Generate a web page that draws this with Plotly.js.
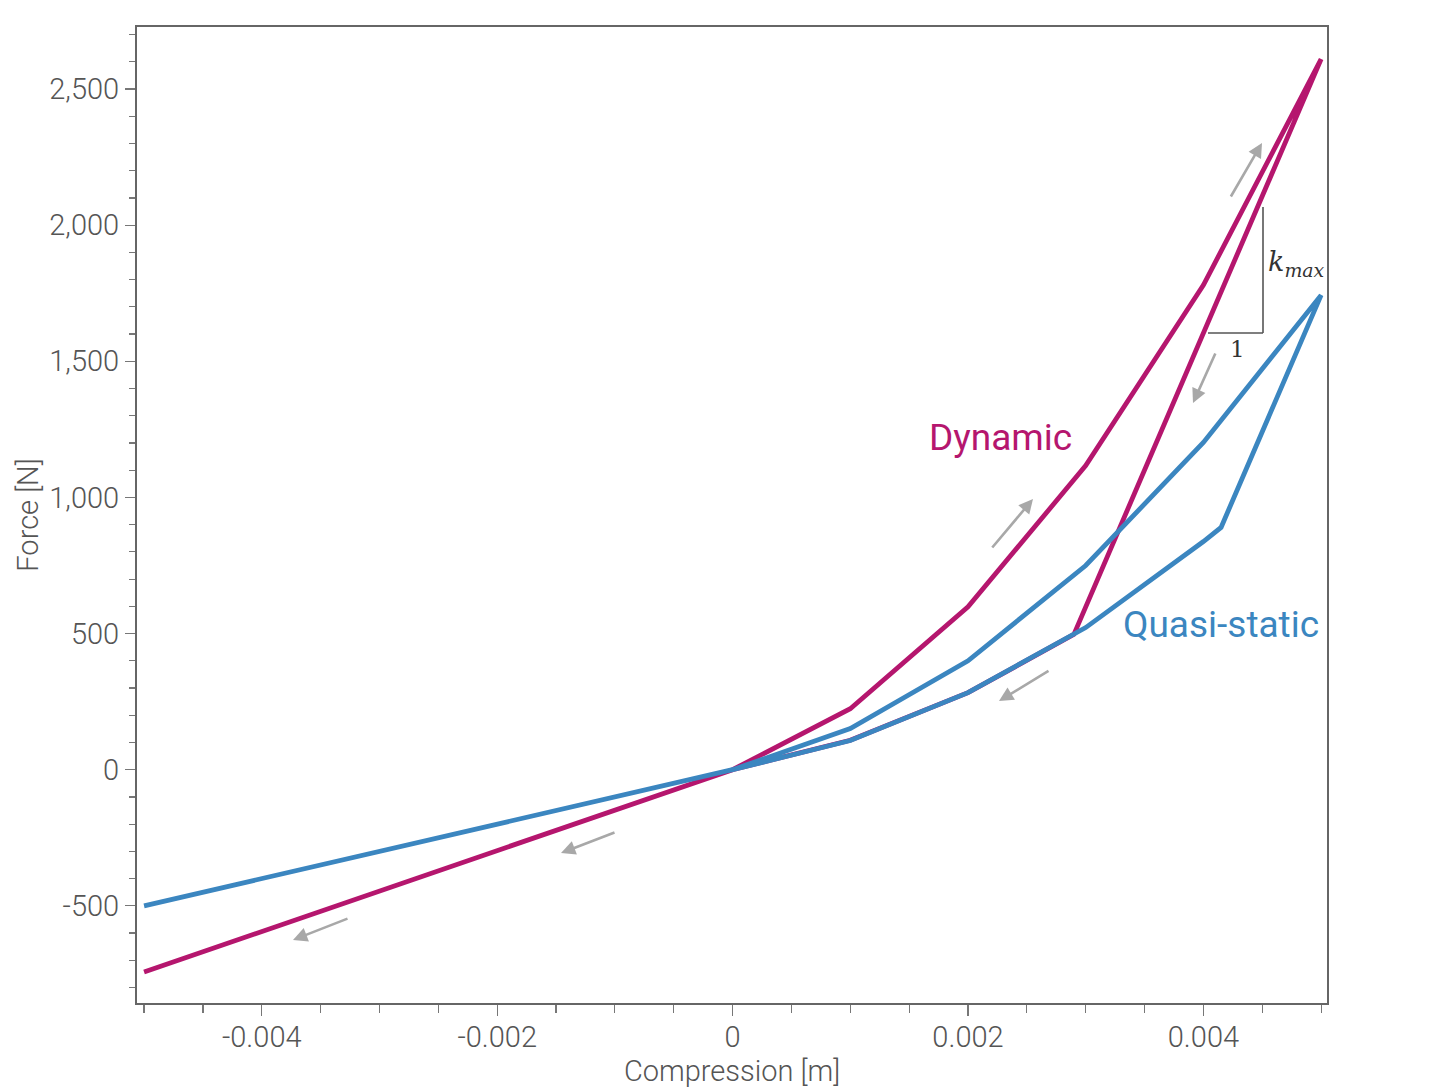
<!DOCTYPE html>
<html>
<head>
<meta charset="utf-8">
<script src="https://cdn.plot.ly/plotly-3.0.1.min.js"></script>
<style>
  html, body { margin: 0; padding: 0; background: #fff; }
  #chart { width: 1456px; height: 1088px; }
</style>
</head>
<body>
<div id="chart"></div>
<script>
// ---- Data ----
const dynamicX = [-0.005, 0, 0.001, 0.002, 0.003, 0.004, 0.005, 0.004, 0.0029, 0.002, 0.001, 0, -0.005];
const dynamicY = [-743, 0, 224, 598, 1117, 1780, 2610, 1607, 497, 283, 108, 0, -743];

const quasiX = [-0.005, 0, 0.001, 0.002, 0.003, 0.004, 0.005, 0.00415, 0.004, 0.003, 0.002, 0.001, 0, -0.005];
const quasiY = [-500, 0, 151, 400, 750, 1202, 1743, 890, 838, 522, 283, 107, 0, -500];

const xTickVals = [-0.004, -0.002, 0, 0.002, 0.004];
const xTickText = ['-0.004', '-0.002', '0', '0.002', '0.004'];
const yTickVals = [-500, 0, 500, 1000, 1500, 2000, 2500];
const yTickText = ['-500', '0', '500', '1,000', '1,500', '2,000', '2,500'];

// ---- Layout geometry ----
const W = 1456, H = 1088;
const L = 137, R = 1327, T = 27, B = 1003;
const px = x => (x - L) / (R - L);
const py = y => (B - y) / (B - T);

const magenta = '#b5166e';
const blue = '#3b86c0';
const arrowGray = '#a8a8a8';
const fontFam = 'Roboto, "Noto Sans", sans-serif';

const traces = [
  { x: dynamicX, y: dynamicY, type: 'scatter', mode: 'lines',
    line: { color: magenta, width: 4.8 }, hoverinfo: 'skip', showlegend: false },
  { x: quasiX, y: quasiY, type: 'scatter', mode: 'lines',
    line: { color: blue, width: 4.8 }, hoverinfo: 'skip', showlegend: false }
];

// arrows: [tailX, tailY, headX, headY] in pixels
const arrows = [
  [1230, 198, 1262, 143],
  [991, 549, 1033, 499],
  [1216, 352, 1193, 403],
  [1050, 670, 999, 701],
  [616, 832, 561, 853],
  [349, 918, 293, 940]
];

const annotations = arrows.map(a => ({
  xref: 'paper', yref: 'paper',
  x: px(a[2]), y: py(a[3]),
  ax: a[0] - a[2], ay: a[1] - a[3],
  axref: 'pixel', ayref: 'pixel',
  showarrow: true, arrowhead: 2, arrowsize: 1.1, arrowwidth: 2.6,
  arrowcolor: arrowGray, text: ''
}));

annotations.push(
  { xref: 'paper', yref: 'paper', x: px(1000), y: py(437), text: 'Dynamic',
    showarrow: false, font: { family: fontFam, size: 37, color: magenta },
    xanchor: 'center', yanchor: 'middle' },
  { xref: 'paper', yref: 'paper', x: px(1221), y: py(624), text: 'Quasi-static',
    showarrow: false, font: { family: fontFam, size: 37, color: blue },
    xanchor: 'center', yanchor: 'middle' },
  { xref: 'paper', yref: 'paper', x: px(1266), y: py(263),
    text: '<i>k</i><sub><i>max</i></sub>',
    showarrow: false, font: { family: '"DejaVu Serif", "Liberation Serif", serif', size: 27, color: '#333' },
    xanchor: 'left', yanchor: 'middle' },
  { xref: 'paper', yref: 'paper', x: px(1237), y: py(349), text: '1',
    showarrow: false, font: { family: '"DejaVu Serif", "Liberation Serif", serif', size: 23, color: '#333' },
    xanchor: 'center', yanchor: 'middle' }
);

const shapes = [
  { type: 'line', xref: 'paper', yref: 'paper', x0: px(1263), y0: py(207), x1: px(1263), y1: py(333),
    line: { color: '#555', width: 1.6 } },
  { type: 'line', xref: 'paper', yref: 'paper', x0: px(1208), y0: py(333), x1: px(1263), y1: py(333),
    line: { color: '#555', width: 1.6 } }
];

const axisFont = { family: fontFam, size: 29, color: '#555', weight: 300 };

const layout = {
  width: W, height: H,
  margin: { l: L, r: W - R, t: T, b: H - B, pad: 0 },
  paper_bgcolor: '#fff', plot_bgcolor: '#fff',
  font: { family: fontFam, color: '#555' },
  xaxis: {
    range: [-0.00506, 0.00505],
    tickmode: 'array', tickvals: xTickVals, ticktext: xTickText,
    ticks: 'outside', ticklen: 11, tickwidth: 1.2, tickcolor: '#777',
    ticklabelstandoff: -4,
    minor: { dtick: 0.0005, tick0: 0, ticks: 'outside', ticklen: 8, tickwidth: 1.2, tickcolor: '#777', showgrid: false },
    showgrid: false, zeroline: false,
    showline: true, linecolor: '#666', linewidth: 2, mirror: true,
    tickfont: axisFont,
    title: { text: 'Compression [m]', font: axisFont, standoff: 10 },
    automargin: false
  },
  yaxis: {
    range: [-857, 2728],
    tickmode: 'array', tickvals: yTickVals, ticktext: yTickText,
    ticks: 'outside', ticklen: 10, tickwidth: 1.2, tickcolor: '#777',
    minor: { dtick: 100, tick0: 0, ticks: 'outside', ticklen: 6, tickwidth: 1.2, tickcolor: '#777', showgrid: false },
    showgrid: false, zeroline: false,
    showline: true, linecolor: '#666', linewidth: 2, mirror: true,
    tickfont: axisFont,
    title: { text: 'Force [N]', font: axisFont, standoff: 2 },
    automargin: false
  },
  annotations: annotations,
  shapes: shapes,
  showlegend: false
};

Plotly.newPlot('chart', traces, layout, { displayModeBar: false, staticPlot: true });
</script>
</body>
</html>
